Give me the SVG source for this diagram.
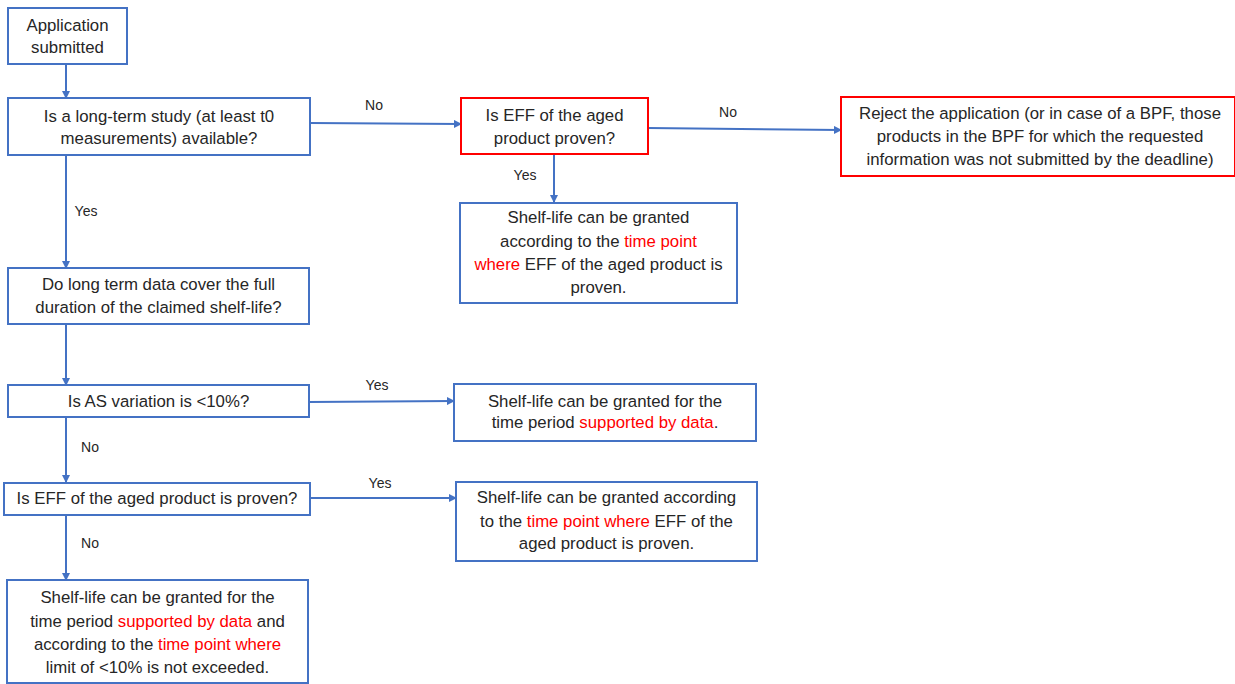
<svg xmlns="http://www.w3.org/2000/svg" width="1235" height="684" viewBox="0 0 1235 684">
<defs>
<marker id="arr" markerWidth="8" markerHeight="8" refX="7" refY="4" orient="auto" markerUnits="userSpaceOnUse">
<path d="M0,0 L8,4 L0,8 Z" fill="#4472C4"/>
</marker>
<style>
.box{fill:#fff;stroke:#4472C4;stroke-width:2}
.rbox{fill:#fff;stroke:#FF0000;stroke-width:2}
.t{font-family:"Liberation Sans",Arial,sans-serif;font-size:16.8px;fill:#262626;text-anchor:middle}
.lbl{font-family:"Liberation Sans",Arial,sans-serif;font-size:14px;fill:#262626;text-anchor:middle}
.r{fill:#FF0000}
.c{fill:none;stroke:#4472C4;stroke-width:2;marker-end:url(#arr)}
</style>
</defs>
<rect width="1235" height="684" fill="#fff"/>
<g id="connectors">
<path class="c" d="M66,64 L66,98"/>
<path class="c" d="M310,123 L461,124"/>
<path class="c" d="M648,128 L841,130"/>
<path class="c" d="M554,154 L554,202"/>
<path class="c" d="M66,155 L66,268"/>
<path class="c" d="M66,324 L66,385"/>
<path class="c" d="M309,402 L454,401"/>
<path class="c" d="M66,417 L66,482"/>
<path class="c" d="M310,498 L456,498"/>
<path class="c" d="M66,515 L66,580"/>
<text class="lbl" x="374" y="110">No</text>
<text class="lbl" x="728" y="117">No</text>
<text class="lbl" x="525" y="180">Yes</text>
<text class="lbl" x="86" y="216">Yes</text>
<text class="lbl" x="377" y="390">Yes</text>
<text class="lbl" x="90" y="452">No</text>
<text class="lbl" x="380" y="488">Yes</text>
<text class="lbl" x="90" y="548">No</text>
</g>
<g id="n1">
<rect class="box" x="8" y="8" width="119" height="56"/>
<text class="t" x="67.5" y="31">Application</text>
<text class="t" x="67.5" y="53">submitted</text>
</g>
<g id="n2">
<rect class="box" x="8" y="98" width="302" height="57"/>
<text class="t" x="159" y="122">Is a long-term study (at least t0</text>
<text class="t" x="159" y="144">measurements)  available?</text>
</g>
<g id="n3">
<rect class="rbox" x="461" y="98" width="187" height="56"/>
<text class="t" x="554.5" y="121">Is EFF of the aged</text>
<text class="t" x="554.5" y="144">product proven?</text>
</g>
<g id="n4">
<rect class="rbox" x="841" y="97" width="394" height="79"/>
<text class="t" x="1040" y="119">Reject the application (or in case of a BPF, those</text>
<text class="t" x="1040" y="142">products in the BPF for which the requested</text>
<text class="t" x="1040" y="165">information was not submitted by the deadline)</text>
</g>
<g id="n5">
<rect class="box" x="460" y="203" width="277" height="100"/>
<text class="t" x="598.5" y="223">Shelf-life can be granted</text>
<text class="t" x="598.5" y="247">according to the <tspan class="r">time point</tspan></text>
<text class="t" x="598.5" y="270"><tspan class="r">where</tspan> EFF of the aged product is</text>
<text class="t" x="598.5" y="293">proven.</text>
</g>
<g id="n6">
<rect class="box" x="8" y="268" width="301" height="56"/>
<text class="t" x="158.5" y="290">Do long term data cover the full</text>
<text class="t" x="158.5" y="313">duration of the claimed shelf-life?</text>
</g>
<g id="n7">
<rect class="box" x="8" y="385" width="301" height="32"/>
<text class="t" x="158.5" y="407">Is AS variation is &lt;10%?</text>
</g>
<g id="n8">
<rect class="box" x="454" y="384" width="302" height="57"/>
<text class="t" x="605" y="407">Shelf-life can be granted for the</text>
<text class="t" x="605" y="428">time period <tspan class="r">supported by data</tspan>.</text>
</g>
<g id="n9">
<rect class="box" x="4" y="483" width="306" height="32"/>
<text class="t" x="157" y="504">Is EFF of the aged product is proven?</text>
</g>
<g id="n10">
<rect class="box" x="456" y="482" width="301" height="79"/>
<text class="t" x="606.5" y="503">Shelf-life can be granted according</text>
<text class="t" x="606.5" y="527">to the <tspan class="r">time point where</tspan> EFF of the</text>
<text class="t" x="606.5" y="549">aged product is proven.</text>
</g>
<g id="n11">
<rect class="box" x="7" y="580" width="301" height="103"/>
<text class="t" x="157.5" y="603">Shelf-life can be granted for the</text>
<text class="t" x="157.5" y="627">time period <tspan class="r">supported by data</tspan> and</text>
<text class="t" x="157.5" y="650">according to the <tspan class="r">time point where</tspan></text>
<text class="t" x="157.5" y="673">limit of &lt;10% is not exceeded.</text>
</g>
</svg>
